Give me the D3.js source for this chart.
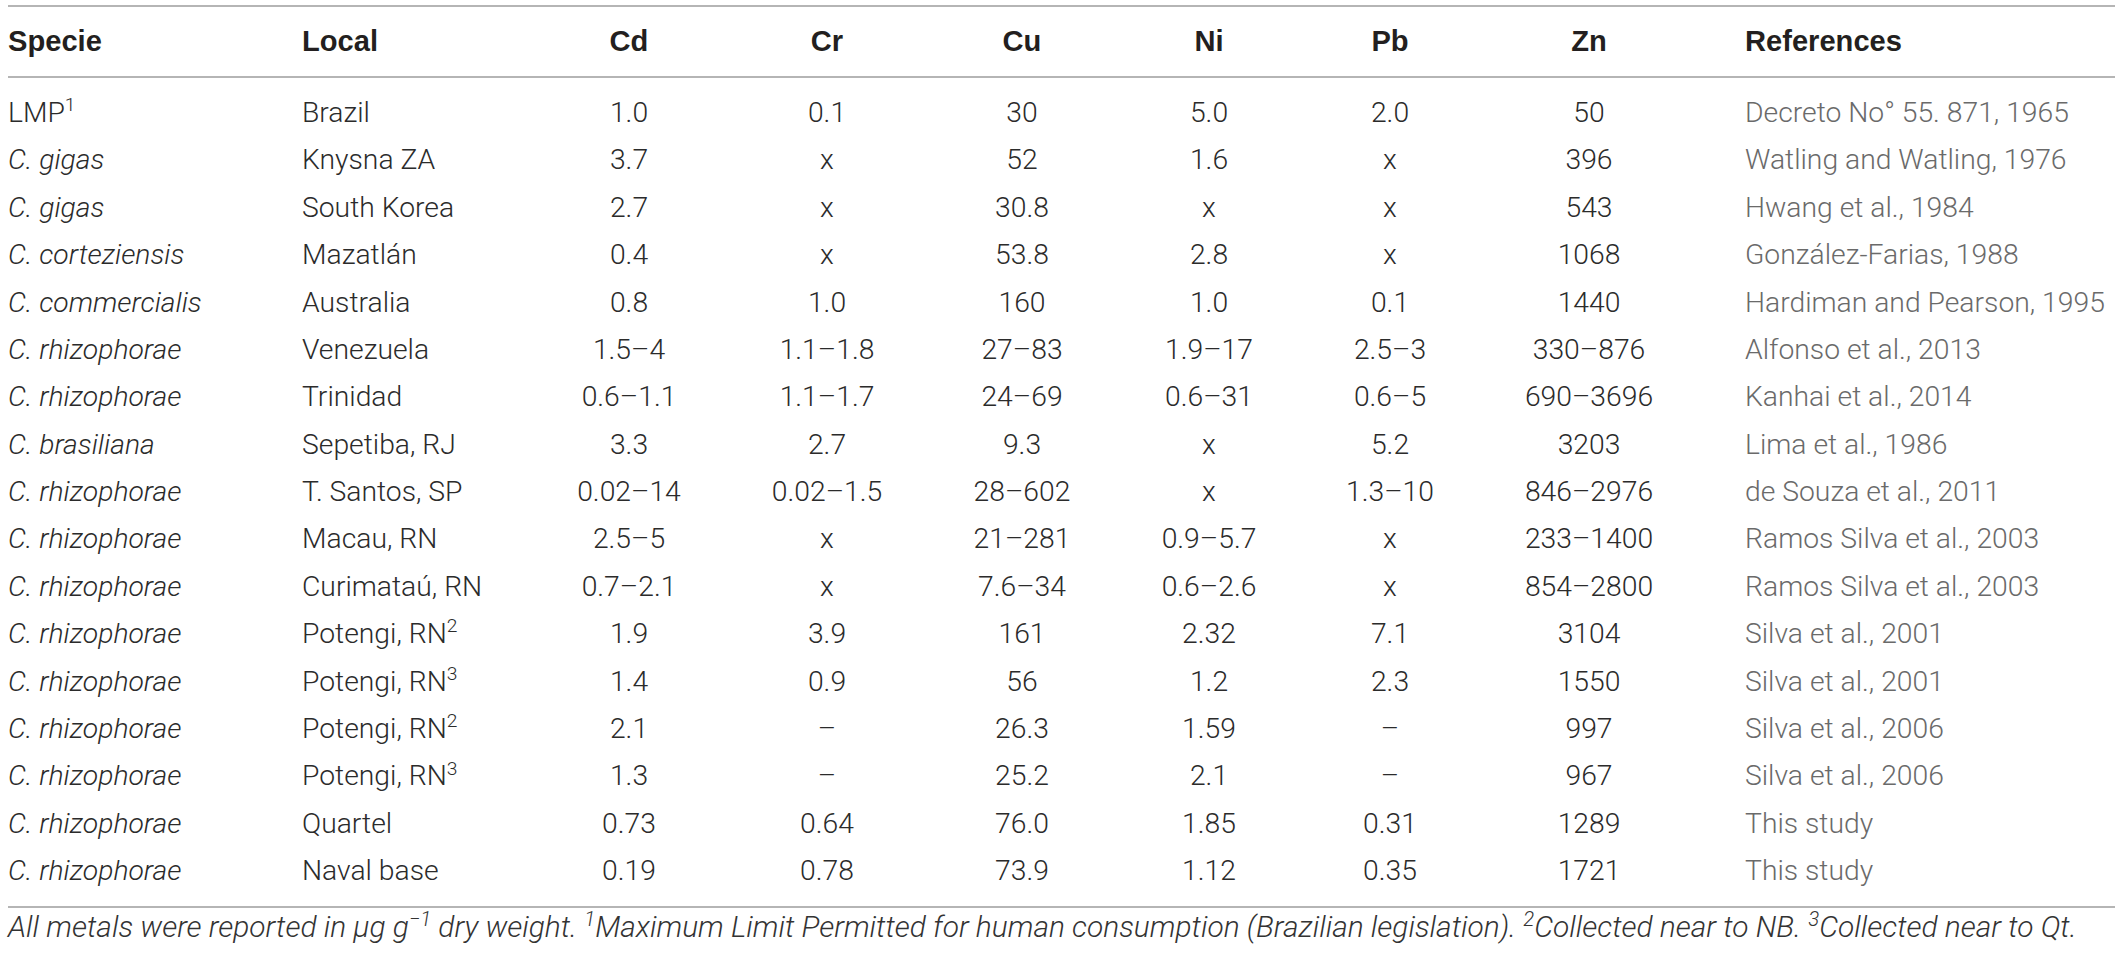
<!DOCTYPE html>
<html>
<head>
<meta charset="utf-8">
<script src="https://cdn.jsdelivr.net/npm/d3@7"></script>
<style>
  html, body { margin: 0; padding: 0; background: #fff; }
  svg { display: block; }
  .hd { font-family: "Liberation Sans", Arial, sans-serif; font-weight: 700; fill: #231f20; }
  .cell { font-family: Roboto, "Liberation Sans", sans-serif; font-weight: 300; fill: #2b2b2b; }
  .ref { fill: #6a6a6a; }
  .foot { font-family: Roboto, "Liberation Sans", sans-serif; font-weight: 300; font-style: italic; fill: #333; }
</style>
</head>
<body>
<div id="chart"></div>
<script>
// Table values (µg g-1 dry weight)
const headers = ['Specie', 'Local', 'Cd', 'Cr', 'Cu', 'Ni', 'Pb', 'Zn', 'References'];

const species = ['LMP', 'C. gigas', 'C. gigas', 'C. corteziensis', 'C. commercialis',
  'C. rhizophorae', 'C. rhizophorae', 'C. brasiliana', 'C. rhizophorae', 'C. rhizophorae',
  'C. rhizophorae', 'C. rhizophorae', 'C. rhizophorae', 'C. rhizophorae', 'C. rhizophorae',
  'C. rhizophorae', 'C. rhizophorae'];
const speciesNote = ['1', '', '', '', '', '', '', '', '', '', '', '', '', '', '', '', ''];

const locals = ['Brazil', 'Knysna ZA', 'South Korea', 'Mazatlán', 'Australia', 'Venezuela',
  'Trinidad', 'Sepetiba, RJ', 'T. Santos, SP', 'Macau, RN', 'Curimataú, RN', 'Potengi, RN',
  'Potengi, RN', 'Potengi, RN', 'Potengi, RN', 'Quartel', 'Naval base'];
const localNote = ['', '', '', '', '', '', '', '', '', '', '', '2', '3', '2', '3', '', ''];

const cd = ['1.0', '3.7', '2.7', '0.4', '0.8', '1.5–4', '0.6–1.1', '3.3', '0.02–14', '2.5–5',
  '0.7–2.1', '1.9', '1.4', '2.1', '1.3', '0.73', '0.19'];
const cr = ['0.1', 'x', 'x', 'x', '1.0', '1.1–1.8', '1.1–1.7', '2.7', '0.02–1.5', 'x',
  'x', '3.9', '0.9', '–', '–', '0.64', '0.78'];
const cu = ['30', '52', '30.8', '53.8', '160', '27–83', '24–69', '9.3', '28–602', '21–281',
  '7.6–34', '161', '56', '26.3', '25.2', '76.0', '73.9'];
const ni = ['5.0', '1.6', 'x', '2.8', '1.0', '1.9–17', '0.6–31', 'x', 'x', '0.9–5.7',
  '0.6–2.6', '2.32', '1.2', '1.59', '2.1', '1.85', '1.12'];
const pb = ['2.0', 'x', 'x', 'x', '0.1', '2.5–3', '0.6–5', '5.2', '1.3–10', 'x',
  'x', '7.1', '2.3', '–', '–', '0.31', '0.35'];
const zn = ['50', '396', '543', '1068', '1440', '330–876', '690–3696', '3203', '846–2976', '233–1400',
  '854–2800', '3104', '1550', '997', '967', '1289', '1721'];
const refs = ['Decreto No° 55. 871, 1965', 'Watling and Watling, 1976', 'Hwang et al., 1984',
  'González-Farias, 1988', 'Hardiman and Pearson, 1995', 'Alfonso et al., 2013',
  'Kanhai et al., 2014', 'Lima et al., 1986', 'de Souza et al., 2011', 'Ramos Silva et al., 2003',
  'Ramos Silva et al., 2003', 'Silva et al., 2001', 'Silva et al., 2001', 'Silva et al., 2006',
  'Silva et al., 2006', 'This study', 'This study'];

const W = 2120, H = 960;
const L = { left: 8, right: 2115, top: 6, headLine: 77, bottom: 907, headBase: 51, row0: 122, rowN: 880, foot: 937 };

const svg = d3.select('#chart').append('svg')
  .attr('width', W).attr('height', H)
  .attr('viewBox', `0 0 ${W} ${H}`);

// font size that makes a sample string span a given width in the reference
function fitSize(cls, sample, target, style) {
  const t = svg.append('text').attr('class', cls).attr('font-size', 100).text(sample);
  if (style) t.style('font-style', style);
  const w = t.node().getComputedTextLength();
  t.remove();
  return 100 * target / w;
}
const hdSize = fitSize('hd', 'References', 157);
const cellSize = Math.min(28.5, fitSize('cell', 'Hardiman and Pearson, 1995', 360));

// column anchor positions
const colX = d3.scaleOrdinal()
  .domain(headers)
  .range([8, 302, 629, 827, 1022, 1209, 1390, 1589, 1745]);
const colAnchor = h => (h === 'Specie' || h === 'Local' || h === 'References') ? 'start' : 'middle';

// row baselines
const rowY = d3.scalePoint()
  .domain(d3.range(species.length))
  .range([L.row0, L.rowN]);

// rules
svg.selectAll('line.rule')
  .data([L.top, L.headLine, L.bottom])
  .join('line')
    .attr('class', 'rule')
    .attr('x1', L.left).attr('x2', L.right)
    .attr('y1', d => d).attr('y2', d => d)
    .attr('stroke', '#9d9d9d')
    .attr('stroke-width', 1.6);

// header
svg.selectAll('text.hd')
  .data(headers)
  .join('text')
    .attr('class', 'hd')
    .attr('font-size', hdSize)
    .attr('x', d => colX(d))
    .attr('y', L.headBase)
    .attr('text-anchor', d => colAnchor(d))
    .text(d => d);

// body
const rows = d3.range(species.length).map(i => ({
  i,
  cells: [
    { col: 'Specie', v: species[i], sup: speciesNote[i], it: species[i] !== 'LMP' },
    { col: 'Local', v: locals[i], sup: localNote[i] },
    { col: 'Cd', v: cd[i] }, { col: 'Cr', v: cr[i] }, { col: 'Cu', v: cu[i] },
    { col: 'Ni', v: ni[i] }, { col: 'Pb', v: pb[i] }, { col: 'Zn', v: zn[i] },
    { col: 'References', v: refs[i], ref: true }
  ]
}));

const gRows = svg.selectAll('g.row')
  .data(rows)
  .join('g')
    .attr('class', 'row')
    .attr('transform', d => `translate(0,${rowY(d.i)})`);

const cells = gRows.selectAll('text.cell')
  .data(d => d.cells)
  .join('text')
    .attr('class', d => d.ref ? 'cell ref' : 'cell')
    .attr('font-size', cellSize)
    .attr('x', d => colX(d.col))
    .attr('text-anchor', d => colAnchor(d.col))
    .style('font-style', d => d.it ? 'italic' : null);

cells.append('tspan').text(d => d.v);
cells.filter(d => d.sup)
  .append('tspan')
    .attr('dy', -cellSize * 0.38)
    .attr('font-size', cellSize * 0.68)
    .style('font-style', 'normal')
    .text(d => d.sup);

// footnote
const footParts = [
  { t: 'All metals were reported in μg g' },
  { t: '−1', sup: true },
  { t: ' dry weight. ' },
  { t: '1', sup: true },
  { t: 'Maximum Limit Permitted for human consumption (Brazilian legislation). ' },
  { t: '2', sup: true },
  { t: 'Collected near to NB. ' },
  { t: '3', sup: true },
  { t: 'Collected near to Qt.' }
];

const foot = svg.append('text')
  .attr('class', 'foot')
  .attr('x', L.left)
  .attr('y', L.foot);

function drawFoot(size) {
  foot.attr('font-size', size)
    .selectAll('tspan')
    .data(footParts)
    .join('tspan')
      .attr('dy', (d, i) => d.sup ? -size * 0.36 : (i > 0 && footParts[i - 1].sup ? size * 0.36 : 0))
      .attr('font-size', d => d.sup ? size * 0.68 : null)
      .text(d => d.t);
}
drawFoot(100);
const footW = foot.node().getComputedTextLength();
drawFoot(100 * (2078 - L.left) / footW);
</script>
</body>
</html>
